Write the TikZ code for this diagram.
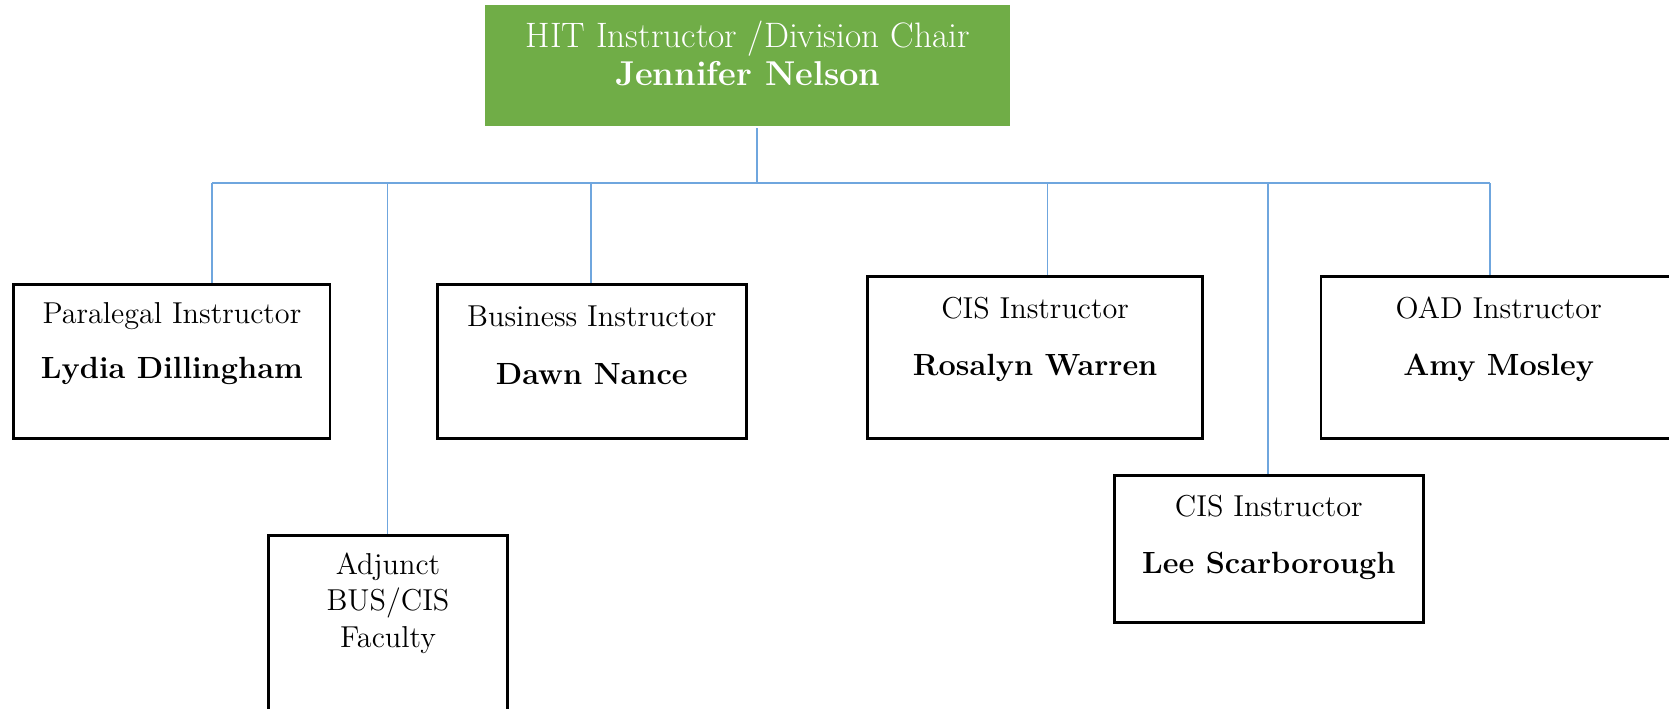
\documentclass[tikz,border=0pt]{standalone}
\usetikzlibrary{calc}
\definecolor{chairgreen}{HTML}{70AD47}
\definecolor{linkblue}{HTML}{6FA6DE}
\tikzset{
  boxshape/.style={draw=black, line width=1.3pt, fill=white, inner sep=0pt},
  chairbox/.style={fill=chairgreen, draw=none, inner sep=0pt},
  conn/.style={draw=linkblue, line width=0.75pt},
  roletext/.style={anchor=base, inner sep=0pt, font=\fontsize{14.2}{17}\selectfont},
  nametext/.style={anchor=base, inner sep=0pt, font=\fontsize{14.4}{17}\selectfont\bfseries},
  chairtext/.style={anchor=base, inner sep=0pt, text=white, font=\fontsize{16.6}{19}\selectfont},
  chairname/.style={anchor=base, inner sep=0pt, text=white, font=\fontsize{16.2}{19}\selectfont\bfseries},
}
\begin{document}
\begin{tikzpicture}[x=0.5pt,y=-0.5pt]
\useasboundingbox (0,0) rectangle (1568,666);
\clip (0,0) rectangle (1568,666);
\fill[white] (0,0) rectangle (1568,666);

% chair box
\node[chairbox, minimum width=246.5pt, minimum height=56.5pt] (chair) at (702.5,61.5) {};
\node[chairtext] (chairT) at (702.5,45) {HIT Instructor /Division Chair};
\node[chairname] (chairN) at (702.5,80) {Jennifer Nelson};

% boxes
\node[boxshape, minimum width=148.5pt, minimum height=72.5pt] (para) at (161.5,339.5) {};
\node[roletext] (paraT) at (161.5,304) {Paralegal Instructor};
\node[nametext] (paraN) at (161.5,356) {Lydia Dillingham};

\node[boxshape, minimum width=112.5pt, minimum height=100pt] (adj) at (364.5,603) {};
\node[roletext] (adjT1) at (364.5,540) {Adjunct};
\node[roletext] (adjT2) at (364.5,574) {BUS/CIS};
\node[roletext] (adjT3) at (364.5,608) {Faculty};

\node[boxshape, minimum width=145pt, minimum height=72.5pt] (bus) at (556,339.5) {};
\node[roletext] (busT) at (556,307) {Business Instructor};
\node[nametext] (busN) at (556,361) {Dawn Nance};

\node[boxshape, minimum width=157.5pt, minimum height=76pt] (cisr) at (972.5,336) {};
\node[roletext] (cisrT) at (972.5,299) {CIS Instructor};
\node[nametext] (cisrN) at (972.5,353) {Rosalyn Warren};

\node[boxshape, minimum width=145pt, minimum height=69pt] (lee) at (1192,516) {};
\node[roletext] (leeT) at (1192,485) {CIS Instructor};
\node[nametext] (leeN) at (1192,539) {Lee Scarborough};

\node[boxshape, minimum width=167pt, minimum height=76pt] (oad) at (1408,336) {};
\node[roletext] (oadT) at (1408,299) {OAD Instructor};
\node[nametext] (oadN) at (1408,353) {Amy Mosley};

% connectors
\coordinate (hub) at (711,172);
\coordinate (d1) at (199,172);
\coordinate (d2) at (364,172);
\coordinate (d3) at (555,172);
\coordinate (d4) at (984,172);
\coordinate (d5) at (1191,172);
\coordinate (d6) at (1400,172);

\draw[conn] ([yshift=-1pt]chair.south -| hub) -- (hub);
\draw[conn] (d1) -- (d6);
\draw[conn] (d1) -- (para.north -| d1);
\draw[conn] (d2) -- (adj.north -| d2);
\draw[conn] (d3) -- (bus.north -| d3);
\draw[conn] (d4) -- (cisr.north -| d4);
\draw[conn] (d5) -- (lee.north -| d5);
\draw[conn] (d6) -- (oad.north -| d6);
\end{tikzpicture}
\end{document}
